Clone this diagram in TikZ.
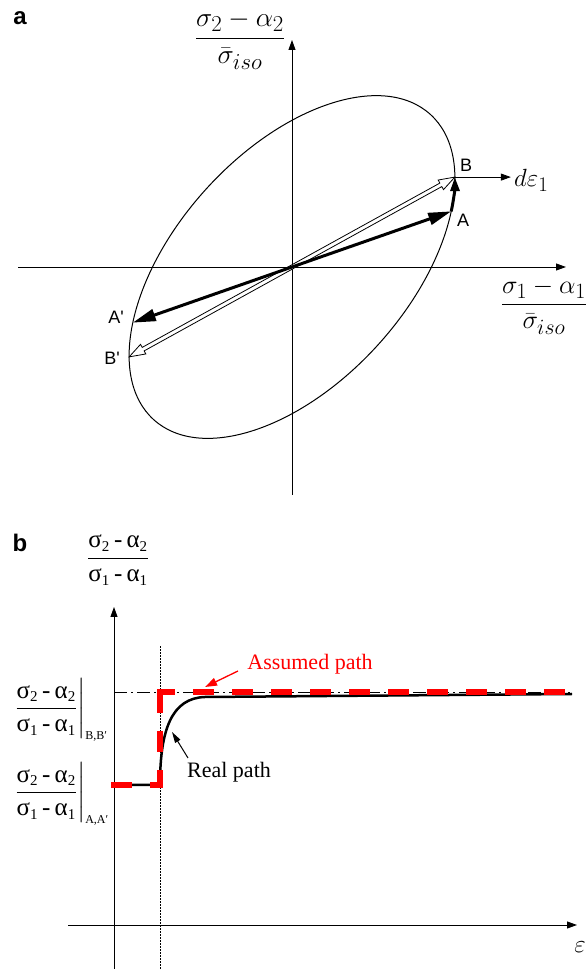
\documentclass[tikz,border=0pt]{standalone}
\usepackage{amsmath}
\usepackage{fontspec}
\setmainfont{Liberation Serif}
\newfontfamily\sansf{Liberation Sans}
\usetikzlibrary{arrows.meta,calc}
\newcommand{\sbx}[1]{_{\text{\rmfamily\fontsize{15}{15}\selectfont #1}}}
\newcommand{\myfrac}{\dfrac{\text{\rmfamily σ}\sbx{2}\text{\rmfamily\,-\,α}\sbx{2}}{\text{\rmfamily σ}\sbx{1}\text{\rmfamily\,-\,α}\sbx{1}}}
\begin{document}
\begin{tikzpicture}[x=1pt,y=1pt,
  axis/.style={line width=0.9pt,-{Triangle[length=10pt,width=7pt]}},
  lbl/.style={font=\sansf\fontsize{18}{20}\selectfont},
  panel/.style={font=\sansf\bfseries\fontsize{24}{26}\selectfont},
  mathlbl/.style={font=\fontsize{24.88}{30}\selectfont},
  serif/.style={font=\rmfamily\fontsize{22}{26}\selectfont},
  tick/.style={font=\rmfamily\fontsize{25}{30}\selectfont, anchor=west, inner sep=0pt},
  reddash/.style={red, line width=6pt, line cap=rect, dash pattern=on 15pt off 24pt, dash phase=3pt}]
\useasboundingbox (0,0) rectangle (586,969);
% ---------------- panel a ----------------
\coordinate (O) at (292,702);
\coordinate (yT) at (292,929);
\coordinate (yB) at (292,474);
\coordinate (xL) at (18,702);
\coordinate (xR) at (566,702);
\draw[axis] (yB) -- (yT);
\draw[axis] (xL) -- (xR);
\draw[line width=1pt, rotate around={47.8:(O)}] (O) ellipse [x radius=206pt, y radius=116pt];
\begin{scope}[shift={(O)}, rotate=47.8]
  \coordinate (A) at (-44:206pt and 116pt);
  \coordinate (Ap) at (136:206pt and 116pt);
  \coordinate (B) at (-31.3:206pt and 116pt);
  \coordinate (Bp) at (148.7:206pt and 116pt);
\end{scope}
% hollow double arrow B' -- B
\begin{scope}[shift={(O)}, rotate=28.9]
  \draw[line width=0.8pt, fill=white] (-170,-2) -- (170,-2) -- (170,-5.5) -- (186,0) -- (170,5.5) -- (170,2)
     -- (-170,2) -- (-170,5.5) -- (-186,0) -- (-170,-5.5) -- cycle;
\end{scope}
% black arrow A' -- A
\draw[line width=3pt, {Triangle[length=23pt,width=12pt]}-{Triangle[length=23pt,width=12pt]}] (Ap) -- (A);
% curved arrow A -> B along the ellipse
\begin{scope}[shift={(O)}, rotate=47.8]
  \draw[line width=3pt, -{Triangle[length=14pt,width=9pt]}] (A) arc[start angle=-44, end angle=-31.3, x radius=206pt, y radius=116pt];
\end{scope}
\coordinate (dE) at ($(B)+(56,0)$);
\draw[axis] (B) -- (dE);
\node[lbl] (LA) at (463,749) {A};
\node[lbl] (LB) at (466,804) {B};
\node[lbl] (LAp) at (116,652) {A'};
\node[lbl] (LBp) at (112,611) {B'};
\node[mathlbl, anchor=west, inner sep=1pt] (Lde) at (513,789) {$d\varepsilon_1$};
\node[mathlbl, inner sep=0pt] (Ly) at (240,929) {\scalebox{1.1}{$\dfrac{\sigma_2-\alpha_2}{\bar{\sigma}_{iso}}$}};
\node[mathlbl, inner sep=0pt] (Lx) at (544,663) {\scalebox{1.05}{$\dfrac{\sigma_1-\alpha_1}{\bar{\sigma}_{iso}}$}};
\node[panel] (pa) at (20,951) {a};
% ---------------- panel b ----------------
\coordinate (vB) at (114,0);
\coordinate (vT) at (114,362);
\coordinate (hL) at (68,44);
\coordinate (hR) at (577,44);
\draw[axis] (vB) -- (vT);
\draw[axis] (hL) -- (hR);
\coordinate (dB) at (160,0);
\coordinate (dT) at (160,324);
\draw[line width=0.8pt, dash pattern=on 1.5pt off 1.5pt] (dB) -- (dT);
\coordinate (ddL) at (114,277);
\coordinate (ddR) at (572,277);
\draw[line width=0.9pt, dash pattern=on 13pt off 4pt on 2pt off 4pt] (ddL) -- (ddR);
\coordinate (p0) at (114,184);
\coordinate (p1) at (160,184);
\coordinate (p2) at (160,277);
\coordinate (q1) at (205,272);
\coordinate (q2) at (572,275);
\draw[line width=2.5pt] (p0) -- (p1) .. controls (160,240) and (172,271) .. (q1) -- (q2);
\draw[reddash, dash phase=0pt] (p0) -- (p1);
\draw[reddash] (p1) -- (p2);
\draw[reddash] (p2) -- (ddR);
\node[serif, red] (AP) at (310,305) {Assumed path};
\coordinate (apTail) at (238,298);
\coordinate (apTip) at (205,282);
\draw[red, line width=1.3pt, -{Triangle[length=12pt,width=8pt]}] (apTail) -- (apTip);
\node[serif] (RPl) at (229,197) {Real path};
\coordinate (rpTail) at (188,211);
\coordinate (rpTip) at (172,237);
\draw[line width=1pt, -{Triangle[length=11pt,width=6pt]}] (rpTail) -- (rpTip);
\node[font=\rmfamily\fontsize{25}{30}\selectfont] (Lyb) at (118,409) {$\myfrac$};
\node[tick] (tB) at (14,259) {$\left.\myfrac\right|_{\text{\rmfamily\fontsize{12}{12}\selectfont B,B′}}$};
\node[tick] (tA) at (14,175) {$\left.\myfrac\right|_{\text{\rmfamily\fontsize{12}{12}\selectfont A,A′}}$};
\node[mathlbl] (eps) at (580,22) {$\varepsilon$};
\node[panel] (pb) at (20,426) {b};
\end{tikzpicture}
\end{document}
